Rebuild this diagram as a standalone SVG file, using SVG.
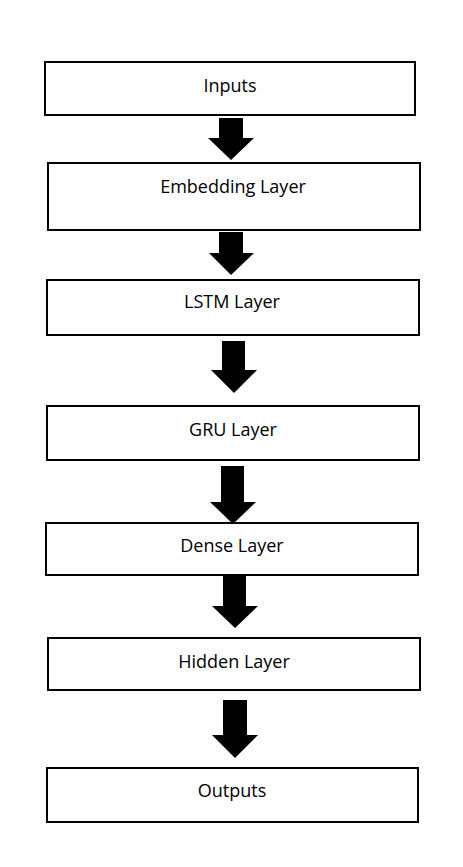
<svg xmlns="http://www.w3.org/2000/svg" width="463" height="867" viewBox="0 0 463 867">
<style>
.box{fill:#fff;stroke:#000;stroke-width:2}
.lbl{font-family:"Open Sans","Liberation Sans",Arial,sans-serif;font-size:18px;fill:#000;text-anchor:middle}
.arr{fill:#000}
</style>
<rect width="463" height="867" fill="#fff"/>
<g id="connectors">
<polygon class="arr" points="219,118 243,118 243,138 254,138 231,160 208,138 219,138"/>
<polygon class="arr" points="219,232 243,232 243,253 254,253 231,275 209,253 219,253"/>
<polygon class="arr" points="222,341 245,341 245,370 257,370 234,393 211,370 222,370"/>
</g>
<g id="n1"><rect class="box" x="45" y="62" width="370" height="53"/><text class="lbl" x="230" y="92">Inputs</text></g>
<g id="n2"><rect class="box" x="48" y="163" width="372" height="67"/><text class="lbl" x="233" y="193">Embedding Layer</text></g>
<g id="n3"><rect class="box" x="47" y="280" width="372" height="55"/><text class="lbl" x="232" y="308">LSTM Layer</text></g>
<g id="n4"><rect class="box" x="47" y="406" width="372" height="54"/><text class="lbl" x="233" y="436">GRU Layer</text></g>
<g id="n5"><rect class="box" x="46" y="523" width="372" height="52"/><text class="lbl" x="232" y="552">Dense Layer</text></g>
<g id="n6"><rect class="box" x="48" y="638" width="372" height="52"/><text class="lbl" x="234" y="668">Hidden Layer</text></g>
<g id="n7"><rect class="box" x="47" y="768" width="371" height="54"/><text class="lbl" x="232" y="797">Outputs</text></g>
<g id="connectors2">
<polygon class="arr" points="221,466 244,466 244,502 256,502 233,524 210,502 221,502"/>
<polygon class="arr" points="223,575 246,575 246,606 258,606 235,628 212,606 223,606"/>
<polygon class="arr" points="223,700 247,700 247,735 258,735 235,758 212,735 223,735"/>
</g>
</svg>
